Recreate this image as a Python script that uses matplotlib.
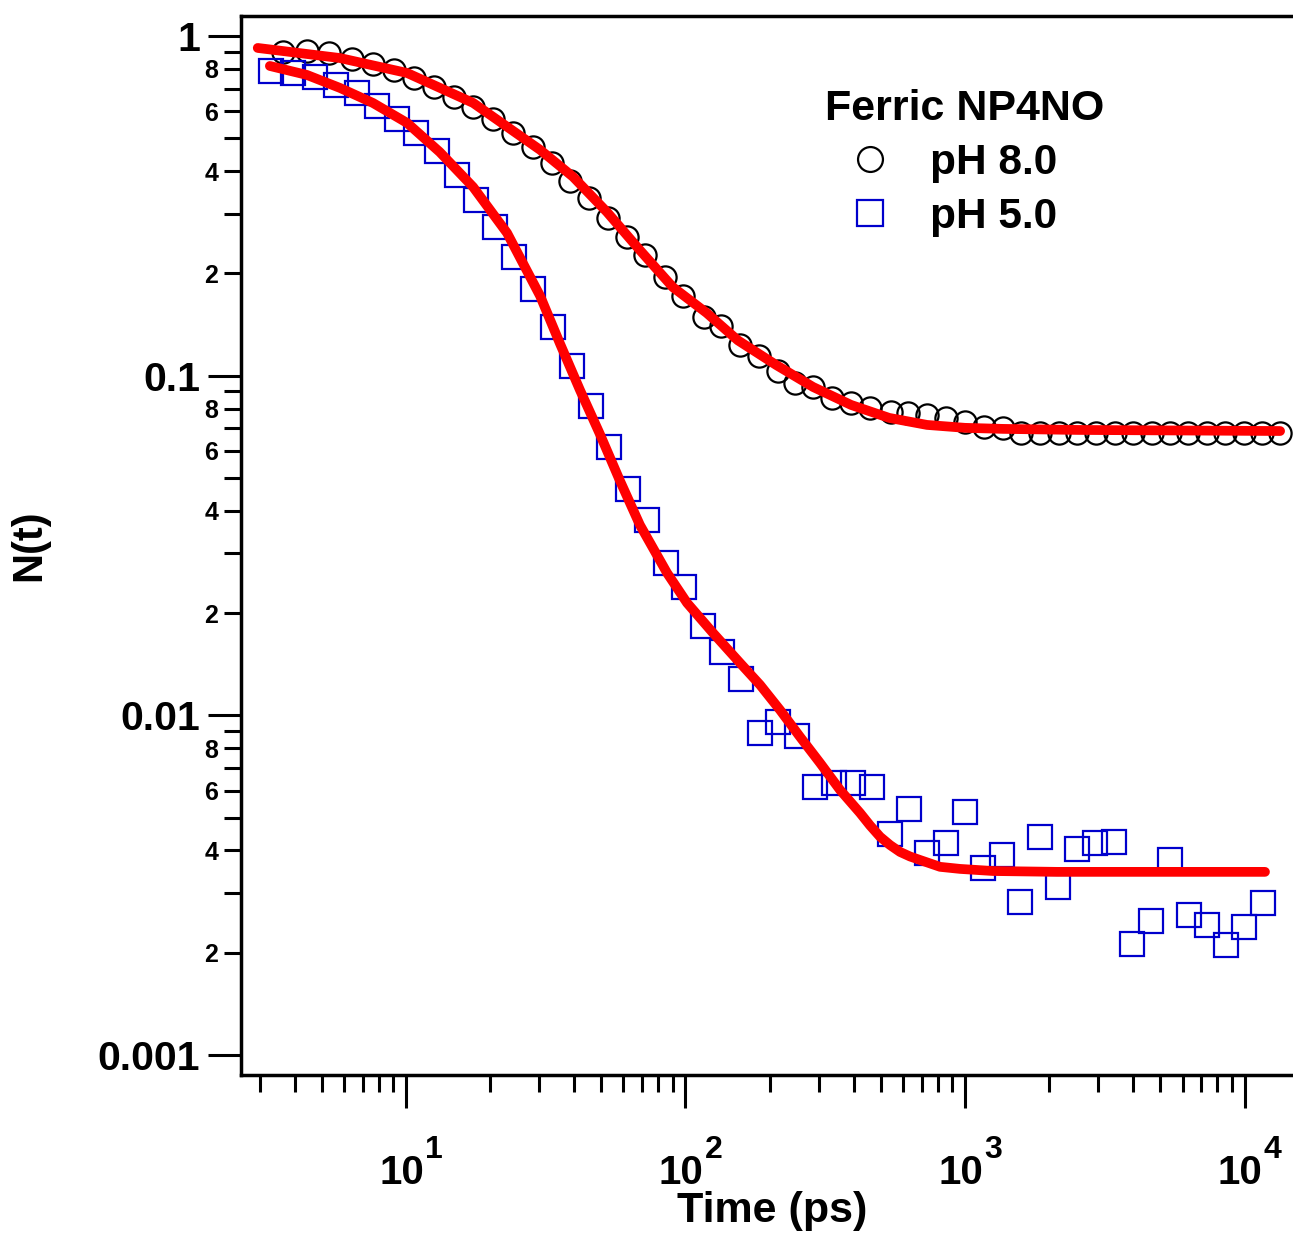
import numpy as np
import matplotlib
matplotlib.use("Agg")
import matplotlib.pyplot as plt
import matplotlib.transforms as mtransforms
from matplotlib.ticker import FixedLocator, FuncFormatter, NullFormatter

plt.rcParams['font.family'] = ['Liberation Sans', 'DejaVu Sans']
plt.rcParams['font.weight'] = 'bold'

# pH 8.0 data (circles)
t_ph8 = [3.63, 4.42, 5.30, 6.41, 7.62, 9.06, 10.7, 12.6, 14.9, 17.4, 20.5, 24.1, 28.5,
         33.3, 38.6, 45.2, 52.8, 61.8, 71.6, 84.5, 98.0, 116, 134, 157, 183, 214, 247,
         286, 334, 391, 457, 543, 625, 731, 855, 1000, 1170, 1368, 1585, 1854, 2168,
         2515, 2942, 3441, 3991, 4668, 5409, 6276, 7340, 8511, 9955, 11560, 13400]
n_ph8 = [0.897, 0.903, 0.891, 0.856, 0.827, 0.794, 0.752, 0.708, 0.661, 0.618, 0.570,
         0.518, 0.471, 0.423, 0.374, 0.334, 0.291, 0.256, 0.227, 0.195, 0.171, 0.149,
         0.140, 0.123, 0.114, 0.103, 0.0952, 0.0927, 0.0860, 0.0831, 0.0804, 0.0782,
         0.0777, 0.0766, 0.0751, 0.0731, 0.0706, 0.0701, 0.0680, 0.0678, 0.0680, 0.0676,
         0.0678, 0.0680, 0.0677, 0.0678, 0.0676, 0.0679, 0.0678, 0.0677, 0.0679, 0.0678,
         0.0680]

# pH 5.0 data (squares)
t_ph5 = [3.29, 3.94, 4.72, 5.62, 6.68, 7.87, 9.29, 10.9, 12.9, 15.2, 17.8, 20.8, 24.3,
         28.4, 33.6, 39.3, 45.9, 53.2, 62.2, 72.8, 85.2, 98.8, 115.5, 135, 158, 185, 214,
         251, 291, 340, 397, 465, 539, 630, 731, 855, 1000, 1159, 1356, 1573, 1854, 2151,
         2515, 2918, 3413, 3955, 4627, 5409, 6328, 7340, 8586, 9955, 11650]
n_ph5 = [0.789, 0.778, 0.757, 0.717, 0.680, 0.622, 0.570, 0.518, 0.459, 0.390, 0.329,
         0.274, 0.224, 0.180, 0.139, 0.107, 0.0814, 0.0617, 0.0464, 0.0376, 0.0281,
         0.0239, 0.0183, 0.0154, 0.0128, 0.00888, 0.00956, 0.00869, 0.00615, 0.00632,
         0.00632, 0.00615, 0.00448, 0.0053, 0.00394, 0.00421, 0.0052, 0.00356, 0.00388,
         0.00282, 0.00439, 0.00312, 0.00404, 0.00421, 0.00424, 0.00212, 0.00248, 0.00375,
         0.00258, 0.00241, 0.00211, 0.00238, 0.00280]

# fit curves
fit8_t = [2.95, 5.81, 10.1, 17.4, 30.2, 39.6, 52.4, 68.7, 90.2, 119, 154, 211, 286, 391,
          535, 731, 1000, 1368, 2535, 13400]
fit8_n = [0.922, 0.861, 0.778, 0.635, 0.462, 0.385, 0.303, 0.234, 0.182, 0.153, 0.127,
          0.1075, 0.0926, 0.0820, 0.0751, 0.0716, 0.0702, 0.0697, 0.0692, 0.0687]

fit5_t = [3.26, 4.42, 5.81, 7.62, 10.1, 13.2, 17.4, 23.0, 30.2, 35.6, 41.9, 49.4, 58.3,
          68.7, 85.9, 101.3, 125.4, 156.7, 184.8, 217.8, 256.9, 302.9, 357.1, 421.0,
          457.2, 496.6, 539.0, 585.5, 635.6, 690.2, 813.9, 959.6, 1260, 2133, 11830]
fit5_n = [0.816, 0.768, 0.703, 0.635, 0.5545, 0.4555, 0.359, 0.263, 0.1716, 0.1240,
          0.0908, 0.0673, 0.0490, 0.03634, 0.02625, 0.02142, 0.01748, 0.01426, 0.01229,
          0.01037, 0.00864, 0.00724, 0.00603, 0.00516, 0.00474, 0.00439, 0.00415,
          0.00396, 0.00384, 0.00375, 0.00358, 0.00353, 0.00348, 0.00346, 0.00346]

x_decades = [1, 2, 3, 4]
y_major = [0.001, 0.01, 0.1, 1]
y_major_labels = ['0.001', '0.01', '0.1', '1']

fig = plt.figure(figsize=(12.93, 12.35), dpi=100)
ax = fig.add_axes([241 / 1293, 1 - 1075 / 1235, 1052 / 1293, 1059 / 1235])

ax.plot(t_ph8, n_ph8, ls='none', marker='o', ms=16, mfc='none', mec='black', mew=1.6,
        label='pH 8.0')
ax.plot(t_ph5, n_ph5, ls='none', marker='s', ms=17, mfc='none', mec='#0000CC', mew=1.6,
        label='pH 5.0')
ax.plot(fit8_t, fit8_n, color='#FF0000', lw=7, solid_capstyle='round',
        solid_joinstyle='round', zorder=5)
ax.plot(fit5_t, fit5_n, color='#FF0000', lw=7, solid_capstyle='round',
        solid_joinstyle='round', zorder=5)

ax.set_xscale('log')
ax.set_yscale('log')
ax.set_xlim(2.57, 14900)
ax.set_ylim(8.73e-4, 1.145)

# y ticks
ax.yaxis.set_major_locator(FixedLocator(y_major))
ax.yaxis.set_major_formatter(FuncFormatter(
    lambda v, p: y_major_labels[p] if p is not None and p < len(y_major_labels) else ''))
y_minor = [m * 10.0 ** e for e in range(-3, 0) for m in range(2, 10)]
ax.yaxis.set_minor_locator(FixedLocator(y_minor))


def minor_label(v, pos):
    m = int(round(v / 10 ** np.floor(np.log10(v) + 1e-9)))
    return str(m) if m in (2, 4, 6, 8) else ''


ax.yaxis.set_minor_formatter(FuncFormatter(minor_label))

# x ticks
ax.xaxis.set_major_locator(FixedLocator([10.0 ** k for k in x_decades]))
ax.xaxis.set_major_formatter(NullFormatter())
x_minor = [m * 10.0 ** e for e in range(0, 5) for m in range(2, 10)]
ax.xaxis.set_minor_locator(FixedLocator(x_minor))
ax.xaxis.set_minor_formatter(NullFormatter())

# decade labels with large raised exponents
blend = mtransforms.blended_transform_factory(ax.transData, ax.transAxes)
for k in x_decades:
    tr_base = mtransforms.offset_copy(blend, fig=fig, x=18, y=-109, units='dots')
    tr_exp = mtransforms.offset_copy(blend, fig=fig, x=19, y=-83, units='dots')
    ax.text(10.0 ** k, 0, '10', transform=tr_base, ha='right', va='baseline',
            fontsize=29, fontweight='bold')
    ax.text(10.0 ** k, 0, str(k), transform=tr_exp, ha='left', va='baseline',
            fontsize=23, fontweight='bold')

ax.tick_params(axis='both', which='major', direction='out', length=24, width=2.2)
ax.tick_params(axis='both', which='minor', direction='out', length=12.5, width=2.2)
ax.tick_params(axis='y', which='major', labelsize=29.5, pad=5.5)
ax.tick_params(axis='y', which='minor', labelsize=18, pad=4)

for s in ['left', 'bottom', 'top']:
    ax.spines[s].set_linewidth(2.5)
ax.spines['right'].set_visible(False)

ax.set_xlabel('Time (ps)', fontsize=31, fontweight='bold', va='center')
ax.xaxis.set_label_coords(0.505, -0.1284)
ax.set_ylabel('N(t)', fontsize=30, fontweight='bold', va='center')
ax.yaxis.set_label_coords(-0.2015, 0.5)

leg = ax.legend(loc='upper left', bbox_to_anchor=(0.555, 0.931), frameon=False,
                title='Ferric NP4NO', prop={'size': 30.5, 'weight': 'bold'},
                title_fontproperties={'size': 31, 'weight': 'bold'},
                alignment='left', markerscale=1.12,
                handlelength=2.125, handletextpad=0.36, labelspacing=0.33,
                borderpad=0, borderaxespad=0)

fig.savefig('out.png', dpi=100, facecolor='white')
